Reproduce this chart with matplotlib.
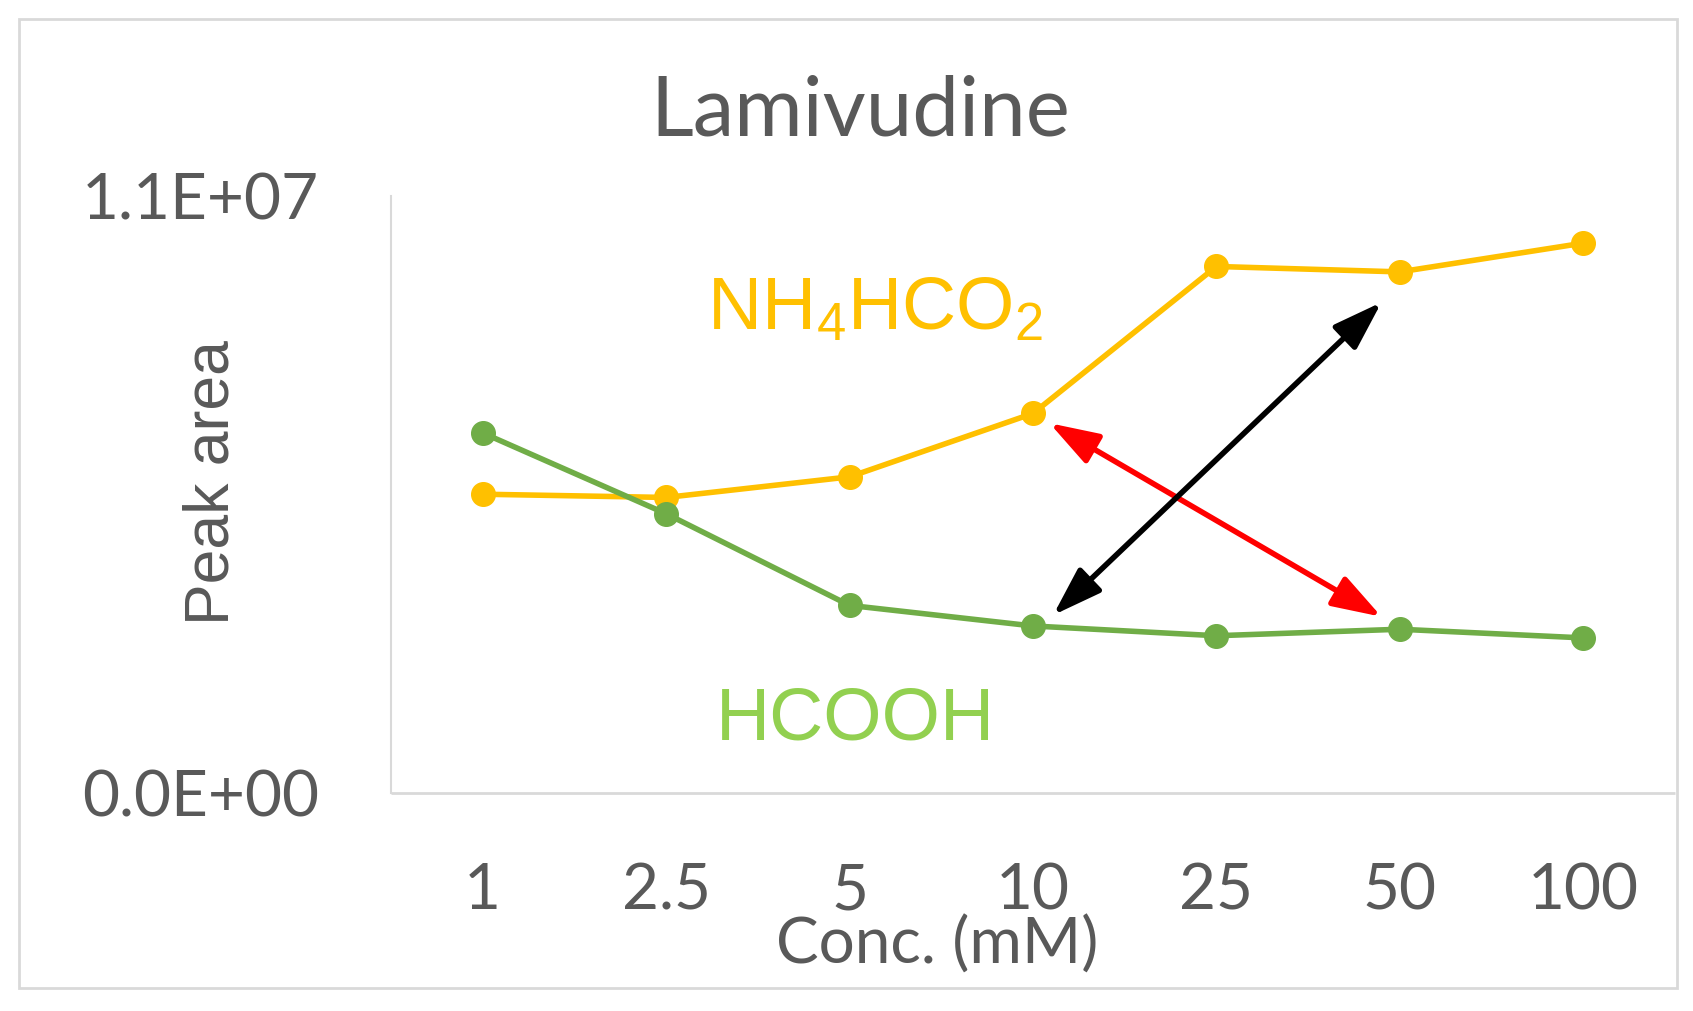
import matplotlib
matplotlib.use("Agg")
import matplotlib.pyplot as plt
from matplotlib.patches import Rectangle, FancyArrowPatch, ArrowStyle

# datos
concentraciones = ["1", "2.5", "5", "10", "25", "50", "100"]
nh4hco2 = [5.51e6, 5.45e6, 5.83e6, 7.00e6, 9.71e6, 9.61e6, 10.14e6]
hcooh = [6.64e6, 5.15e6, 3.46e6, 3.08e6, 2.90e6, 3.02e6, 2.86e6]

# flechas (inicio, fin) en coordenadas de datos
flecha_roja = [(3.09, 6.82e6), (4.90, 3.25e6)]
flecha_negra = [(3.11, 3.28e6), (4.90, 9.05e6)]

GRIS_TEXTO = "#595959"
GRIS_EJE = "#D9D9D9"

plt.rcParams["mathtext.fontset"] = "custom"
plt.rcParams["mathtext.rm"] = "Liberation Sans"
plt.rcParams["mathtext.it"] = "Liberation Sans"

fig = plt.figure(figsize=(16.93, 10.11), dpi=100)
ax = fig.add_axes([391 / 1693, 1 - 793 / 1011, (1675 - 391) / 1693, (793 - 196.5) / 1011])

x = list(range(len(concentraciones)))
ax.plot(x, nh4hco2, color="#FFC000", lw=4, marker="o", ms=17, zorder=3)
ax.plot(x, hcooh, color="#70AD47", lw=4, marker="o", ms=17, zorder=3)

ax.set_xlim(-0.5, len(concentraciones) - 0.5)
ax.set_ylim(0, 1.1e7)
ax.set_xticks(x)
ax.set_xticklabels(concentraciones)
ax.set_yticks([0, 1.1e7])
ax.set_yticklabels(["0.0E+00", "1.1E+07"])
ax.tick_params(length=0, labelsize=46, labelcolor=GRIS_TEXTO)
ax.tick_params(axis="x", pad=50)
ax.tick_params(axis="y", pad=52)
for lbl in ax.get_xticklabels() + ax.get_yticklabels():
    lbl.set_fontfamily("Lato")

for lado in ["top", "right"]:
    ax.spines[lado].set_visible(False)
ax.spines["left"].set_color(GRIS_EJE)
ax.spines["left"].set_linewidth(1.5)
ax.spines["bottom"].set_color(GRIS_EJE)
ax.spines["bottom"].set_linewidth(2)
ax.spines["bottom"].set_capstyle("butt")

estilo = ArrowStyle("<|-|>", head_length=1.5, head_width=0.5)
for (ini, fin), col in [(flecha_roja, "#FF0000"), (flecha_negra, "black")]:
    fl = FancyArrowPatch(ini, fin, arrowstyle=estilo, mutation_scale=20,
                         color=col, lw=4, shrinkA=0, shrinkB=0, zorder=4)
    ax.add_patch(fl)

# textos
fig.text(860 / 1693, 1 - 135 / 1011, "Lamivudine", fontsize=60, family="Lato",
         color=GRIS_TEXTO, ha="center", va="baseline")
fig.text(212 / 1693, 1 - 483 / 1011, "Peak area", fontsize=45, family="Liberation Sans",
         color=GRIS_TEXTO, rotation=90, ha="center", va="center")
fig.text(937 / 1693, 1 - 945 / 1011, "Conc. (mM)", fontsize=46, family="Lato",
         color=GRIS_TEXTO, ha="center", va="center")
fig.text(707 / 1693, 1 - 329 / 1011, r"$\mathrm{NH_4HCO_2}$", fontsize=54,
         color="#FFC000", ha="left", va="baseline")
fig.text(855 / 1693, 1 - 740 / 1011, "HCOOH", fontsize=54, family="Liberation Sans",
         color="#92D050", ha="center", va="baseline")

# marco exterior
fig.patches.append(Rectangle((19 / 1693, 1 - 988 / 1011), (1677 - 19) / 1693, (988 - 19) / 1011,
                             transform=fig.transFigure, fill=False, ec=GRIS_EJE, lw=2))

plt.savefig("out.png", dpi=100)
plt.close()
